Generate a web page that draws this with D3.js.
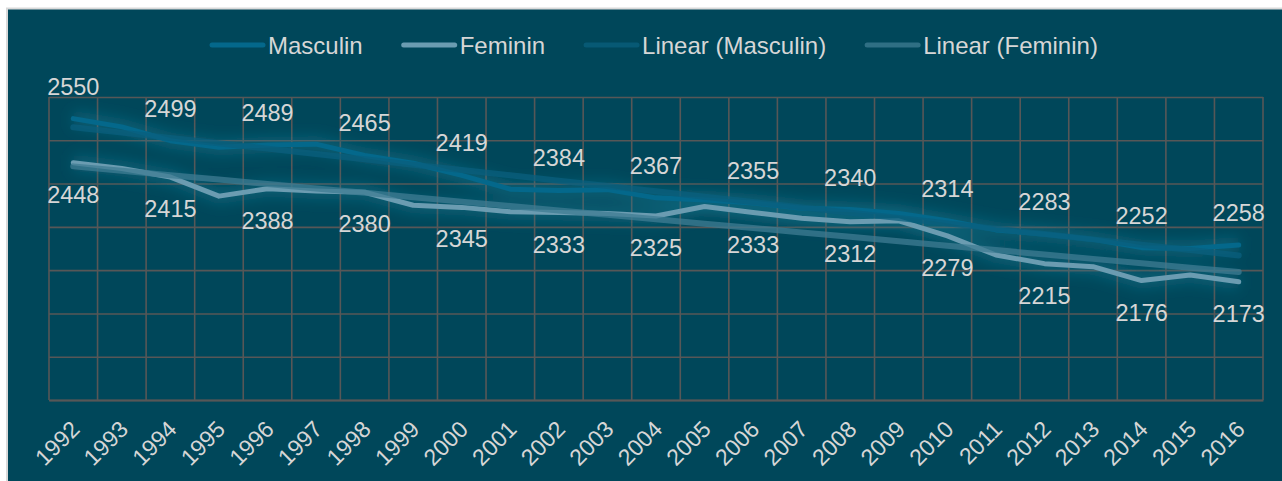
<!DOCTYPE html>
<html>
<head>
<meta charset="utf-8">
<script src="https://cdn.jsdelivr.net/npm/d3@7"></script>
<style>
  body { margin: 0; background: #fff; }
  text { font-family: "Liberation Sans", Arial, sans-serif; }
</style>
</head>
<body>
<div id="chart"></div>
<script>
var width = 1282;
var height = 481;

// data
var years = ["1992", "1993", "1994", "1995", "1996", "1997", "1998", "1999", "2000", "2001", "2002", "2003", "2004",
  "2005", "2006", "2007", "2008", "2009", "2010", "2011", "2012", "2013", "2014", "2015", "2016"];
var masculin = [2550, 2531, 2499, 2484, 2489, 2491, 2465, 2447, 2419, 2387, 2384, 2386, 2367,
  2362, 2355, 2343, 2340, 2331, 2314, 2293, 2283, 2271, 2252, 2250, 2258];
var feminin = [2448, 2435, 2415, 2371, 2388, 2383, 2380, 2350, 2345, 2335, 2333, 2331, 2325,
  2347, 2333, 2320, 2312, 2314, 2279, 2235, 2215, 2208, 2176, 2189, 2173];
var seriesNames = ["Masculin", "Feminin", "Linear (Masculin)", "Linear (Feminin)"];
var yTicks = [1900, 2000, 2100, 2200, 2300, 2400, 2500, 2600];

var colors = ["#04688b", "#6b9cb1", "#0a5f7d", "#3f7c93"];
var bg = "#00475a";
var gridColor = "#575757";
var textColor = "#d6d6d6";

var plot = { left: 49, right: 1263, top: 97, bottom: 400 };

var svg = d3.select("#chart")
  .append("svg")
  .attr("width", width)
  .attr("height", height);

svg.append("rect")
  .attr("x", 7)
  .attr("y", 8.5)
  .attr("width", width)
  .attr("height", height)
  .attr("fill", bg)
  .attr("stroke", "#d9d9d9")
  .attr("stroke-width", 2);

var defs = svg.append("defs");
var glow = defs.append("filter")
  .attr("id", "glow")
  .attr("x", "-20%").attr("y", "-200%")
  .attr("width", "140%").attr("height", "500%");
glow.append("feGaussianBlur").attr("stdDeviation", 7);

var xScale = d3.scaleBand()
  .domain(years)
  .range([plot.left, plot.right]);

var yScale = d3.scaleLinear()
  .domain([yTicks[0], yTicks[yTicks.length - 1]])
  .range([plot.bottom, plot.top]);

// horizontal grid
svg.append("g")
  .attr("transform", "translate(" + plot.left + ",0)")
  .call(d3.axisLeft(yScale).tickValues(yTicks).tickSize(-(plot.right - plot.left)).tickFormat(""))
  .call(g => g.select(".domain").remove())
  .call(g => g.selectAll("line").attr("stroke", gridColor).attr("stroke-width", 1.6));

// vertical grid at band edges
var edges = d3.range(years.length + 1).map(i => xScale.range()[0] + i * xScale.step());
svg.append("g")
  .selectAll("line")
  .data(edges)
  .enter()
  .append("line")
  .attr("x1", d => d).attr("x2", d => d)
  .attr("y1", plot.top).attr("y2", plot.bottom)
  .attr("stroke", gridColor)
  .attr("stroke-width", 1.6);

// x axis labels
var xAxis = svg.append("g")
  .attr("transform", "translate(0," + plot.bottom + ")")
  .call(d3.axisBottom(xScale).tickSize(0).tickPadding(0));
xAxis.select(".domain").attr("stroke", gridColor).attr("stroke-width", 2);
xAxis.selectAll("text")
  .attr("fill", textColor)
  .attr("font-size", "23px")
  .attr("text-anchor", "end")
  .attr("dy", "0.35em")
  .attr("transform", "translate(2,25) rotate(-45)");

function cx(i) { return xScale(years[i]) + xScale.bandwidth() / 2; }

function trend(values) {
  var mx = d3.mean(values, (d, i) => i);
  var my = d3.mean(values);
  var sxy = d3.sum(values, (d, i) => (i - mx) * (d - my));
  var sxx = d3.sum(values, (d, i) => (i - mx) * (i - mx));
  var b = sxy / sxx;
  return values.map((d, i) => my + b * (i - mx));
}

var series = [
  { name: seriesNames[0], values: masculin, color: colors[0], width: 5, opacity: 1 },
  { name: seriesNames[1], values: feminin, color: colors[1], width: 5, opacity: 1 },
  { name: seriesNames[2], values: trend(masculin), color: colors[2], width: 6, opacity: 0.75 },
  { name: seriesNames[3], values: trend(feminin), color: colors[3], width: 6, opacity: 0.75 }
];

var line = d3.line()
  .x((d, i) => cx(i))
  .y(d => yScale(d));

// soft glow behind lines
svg.append("g")
  .attr("filter", "url(#glow)")
  .selectAll("path")
  .data(series.slice(0, 2))
  .enter()
  .append("path")
  .attr("d", d => line(d.values))
  .attr("fill", "none")
  .attr("stroke", "#1a7f9c")
  .attr("stroke-opacity", 0.4)
  .attr("stroke-width", 16);

svg.append("g")
  .selectAll("path")
  .data(series)
  .enter()
  .append("path")
  .attr("d", d => line(d.values))
  .attr("fill", "none")
  .attr("stroke", d => d.color)
  .attr("stroke-width", d => d.width)
  .attr("stroke-opacity", d => d.opacity)
  .attr("stroke-linejoin", "round")
  .attr("stroke-linecap", "round");

// data labels for every other year
var labelIdx = d3.range(0, years.length, 2);
svg.append("g")
  .selectAll("text")
  .data(labelIdx)
  .enter()
  .append("text")
  .attr("x", i => cx(i))
  .attr("y", i => yScale(masculin[i]) - 24)
  .attr("text-anchor", "middle")
  .attr("font-size", "23.5px")
  .attr("fill", textColor)
  .text(i => masculin[i]);

svg.append("g")
  .selectAll("text")
  .data(labelIdx)
  .enter()
  .append("text")
  .attr("x", i => cx(i))
  .attr("y", i => yScale(feminin[i]) + 40)
  .attr("text-anchor", "middle")
  .attr("font-size", "23.5px")
  .attr("fill", textColor)
  .text(i => feminin[i]);

// legend
var legend = svg.append("g").attr("id", "legend");
var lx = 0;
series.forEach(function (s) {
  var item = legend.append("g").attr("transform", "translate(" + lx + ",0)");
  item.append("line")
    .attr("x1", 2).attr("x2", 53)
    .attr("y1", 0).attr("y2", 0)
    .attr("stroke", s.color)
    .attr("stroke-opacity", s.opacity)
    .attr("stroke-width", 5)
    .attr("stroke-linecap", "round");
  var t = item.append("text")
    .attr("x", 58)
    .attr("y", 8.5)
    .attr("font-size", "24px")
    .attr("fill", textColor)
    .text(s.name);
  lx += 58 + t.node().getComputedTextLength() + 39;
});
legend.attr("transform", "translate(210,45)");
</script>
</body>
</html>
